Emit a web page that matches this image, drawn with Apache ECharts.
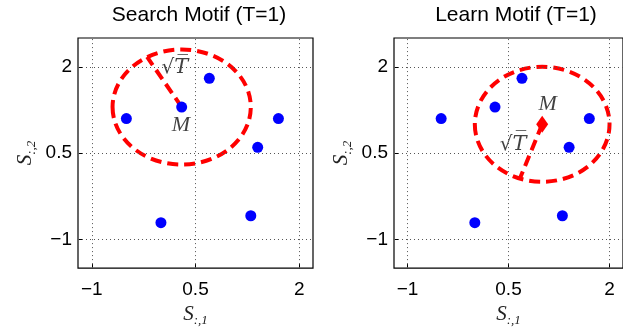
<!DOCTYPE html>
<html>
<head>
<meta charset="utf-8">
<script src="https://cdn.jsdelivr.net/npm/echarts@6/dist/echarts.min.js"></script>
<style>
  html, body { margin: 0; padding: 0; background: #fff; }
  #main { width: 623px; height: 332px; }
</style>
</head>
<body>
<div id="main"></div>
<script>
// data
const ptX = [-0.5, 0.3, 0.7, 1.7, 1.4, 0.0, 1.3];
const ptY = [1.1, 1.3, 1.8, 1.1, 0.6, -0.71, -0.59];
const tickValues = [-1, 0.5, 2];
const titles = ['Search Motif (T=1)', 'Learn Motif (T=1)'];

// motif M, radius sqrt(T)=1, and the end of the drawn radius, per panel
const motifX = [0.3, 1.0];
const motifY = [1.3, 1.0];
const radius = [1, 1];
const radiusEndX = [-0.2, 0.67];
const radiusEndY = [2.17, 0.06];

// where the annotations sit
const mLabelX = [0.29, 1.08];
const mLabelY = [0.99, 1.35];
const tLabelX = [0.2, 0.57];
const tLabelY = [1.98, 0.65];

const xMin = -1.2, xMax = 2.2, yMin = -1.5, yMax = 2.5;

const sans = 'Liberation Sans, Arial, sans-serif';
const serif = 'Liberation Serif, Times New Roman, serif';

function tickText(v) {
  return v < 0 ? '\u2212' + Math.abs(v) : String(v);
}

let myChart = echarts.init(document.getElementById('main'));

let grids = [
  { left: 78, top: 38, width: 235, height: 235, show: true, borderColor: '#000', borderWidth: 1.2, backgroundColor: '#fff' },
  { left: 394, top: 38, width: 235, height: 235, show: true, borderColor: '#000', borderWidth: 1.2, backgroundColor: '#fff' }
];

let nameRich = {
  s: { fontFamily: serif, fontStyle: 'italic', fontSize: 21, color: '#222' },
  sub: { fontFamily: serif, fontStyle: 'italic', fontSize: 13, color: '#222', padding: [12, 0, 0, 0] }
};

let xAxes = [], yAxes = [];
[0, 1].forEach(g => {
  xAxes.push({
    type: 'value', gridIndex: g, min: xMin, max: xMax, position: 'bottom',
    axisLine: { show: false, onZero: false },
    axisTick: { show: true, inside: true, length: 4, customValues: tickValues, lineStyle: { color: '#000' } },
    axisLabel: { customValues: tickValues, formatter: tickText, fontFamily: sans, fontSize: 19, color: '#000', margin: 12 },
    splitLine: { show: false },
    name: '{s|S}{sub|:,1}', nameLocation: 'middle', nameGap: 28,
    nameTextStyle: { rich: nameRich }
  });
  yAxes.push({
    type: 'value', gridIndex: g, min: yMin, max: yMax, position: 'left',
    axisLine: { show: false, onZero: false },
    axisTick: { show: true, inside: true, length: 4, customValues: tickValues, lineStyle: { color: '#000' } },
    axisLabel: { customValues: tickValues, formatter: tickText, fontFamily: sans, fontSize: 19, color: '#000', margin: 6 },
    splitLine: { show: false },
    name: '{s|S}{sub|:,2}', nameLocation: 'middle', nameGap: 40,
    nameTextStyle: { rich: nameRich }
  });
});

let series = [];
[0, 1].forEach(g => {
  // dotted grid lines
  series.push({
    type: 'scatter', xAxisIndex: g, yAxisIndex: g, data: [], silent: true,
    markLine: {
      symbol: 'none', silent: true, label: { show: false },
      lineStyle: { type: [1, 3], color: '#555', width: 1 },
      data: tickValues.map(v => ({ xAxis: v })).concat(tickValues.map(v => ({ yAxis: v })))
    }
  });

  // circle of radius sqrt(T) round M
  series.push({
    type: 'custom', xAxisIndex: g, yAxisIndex: g, z: 3, silent: true,
    data: [[motifX[g], motifY[g], radius[g]]],
    renderItem: function (params, api) {
      let c = api.coord([api.value(0), api.value(1)]);
      let s = api.size([api.value(2), api.value(2)]);
      let rx = s[0], ry = s[1];
      let d = 'M ' + (c[0] - rx) + ' ' + c[1] +
        ' A ' + rx + ' ' + ry + ' 0 1 0 ' + (c[0] + rx) + ' ' + c[1] +
        ' A ' + rx + ' ' + ry + ' 0 1 0 ' + (c[0] - rx) + ' ' + c[1] + ' Z';
      return {
        type: 'path',
        shape: { pathData: d },
        style: { fill: 'none', stroke: '#ff0000', lineWidth: 4, lineDash: [11, 6] }
      };
    }
  });

  // radius line
  series.push({
    type: 'line', xAxisIndex: g, yAxisIndex: g, z: 3, silent: true,
    symbol: 'none',
    data: [[motifX[g], motifY[g]], [radiusEndX[g], radiusEndY[g]]],
    lineStyle: { color: '#ff0000', width: 4, type: [11, 6] }
  });

  // points
  series.push({
    type: 'scatter', xAxisIndex: g, yAxisIndex: g, z: 5,
    symbol: 'circle', symbolSize: 11,
    itemStyle: { color: '#0000ff', opacity: 1 },
    data: ptX.map((x, i) => [x, ptY[i]])
  });

  // learned motif marker
  if (g === 1) {
    series.push({
      type: 'scatter', xAxisIndex: g, yAxisIndex: g, z: 6,
      symbol: 'diamond', symbolSize: [12, 17],
      itemStyle: { color: '#ff0000', opacity: 1 },
      data: [[motifX[g], motifY[g]]]
    });
  }

  // annotations
  series.push({
    type: 'scatter', xAxisIndex: g, yAxisIndex: g, z: 7, symbolSize: 0, silent: true,
    data: [
      { value: [mLabelX[g], mLabelY[g]], name: 'M' },
      { value: [tLabelX[g], tLabelY[g]], name: 'T' }
    ],
    label: {
      show: true, position: 'inside',
      formatter: p => p.name === 'M' ? '{m|M}' : '{r|\u221A}{t|T\u0305}',
      rich: {
        m: { fontFamily: serif, fontStyle: 'italic', fontSize: 22, color: '#111' },
        r: { fontFamily: 'DejaVu Serif, serif', fontSize: 20, color: '#111' },
        t: { fontFamily: 'DejaVu Serif, serif', fontStyle: 'italic', fontSize: 21, color: '#111' }
      }
    }
  });
});

let option = {
  animation: false,
  backgroundColor: '#fff',
  title: [
    { text: titles[0], left: 194, top: 0, textAlign: 'center', textStyle: { fontFamily: sans, fontWeight: 'normal', fontSize: 21, color: '#000' } },
    { text: titles[1], left: 511, top: 0, textAlign: 'center', textStyle: { fontFamily: sans, fontWeight: 'normal', fontSize: 21, color: '#000' } }
  ],
  grid: grids,
  xAxis: xAxes,
  yAxis: yAxes,
  series: series
};
myChart.setOption(option);
</script>
</body>
</html>
